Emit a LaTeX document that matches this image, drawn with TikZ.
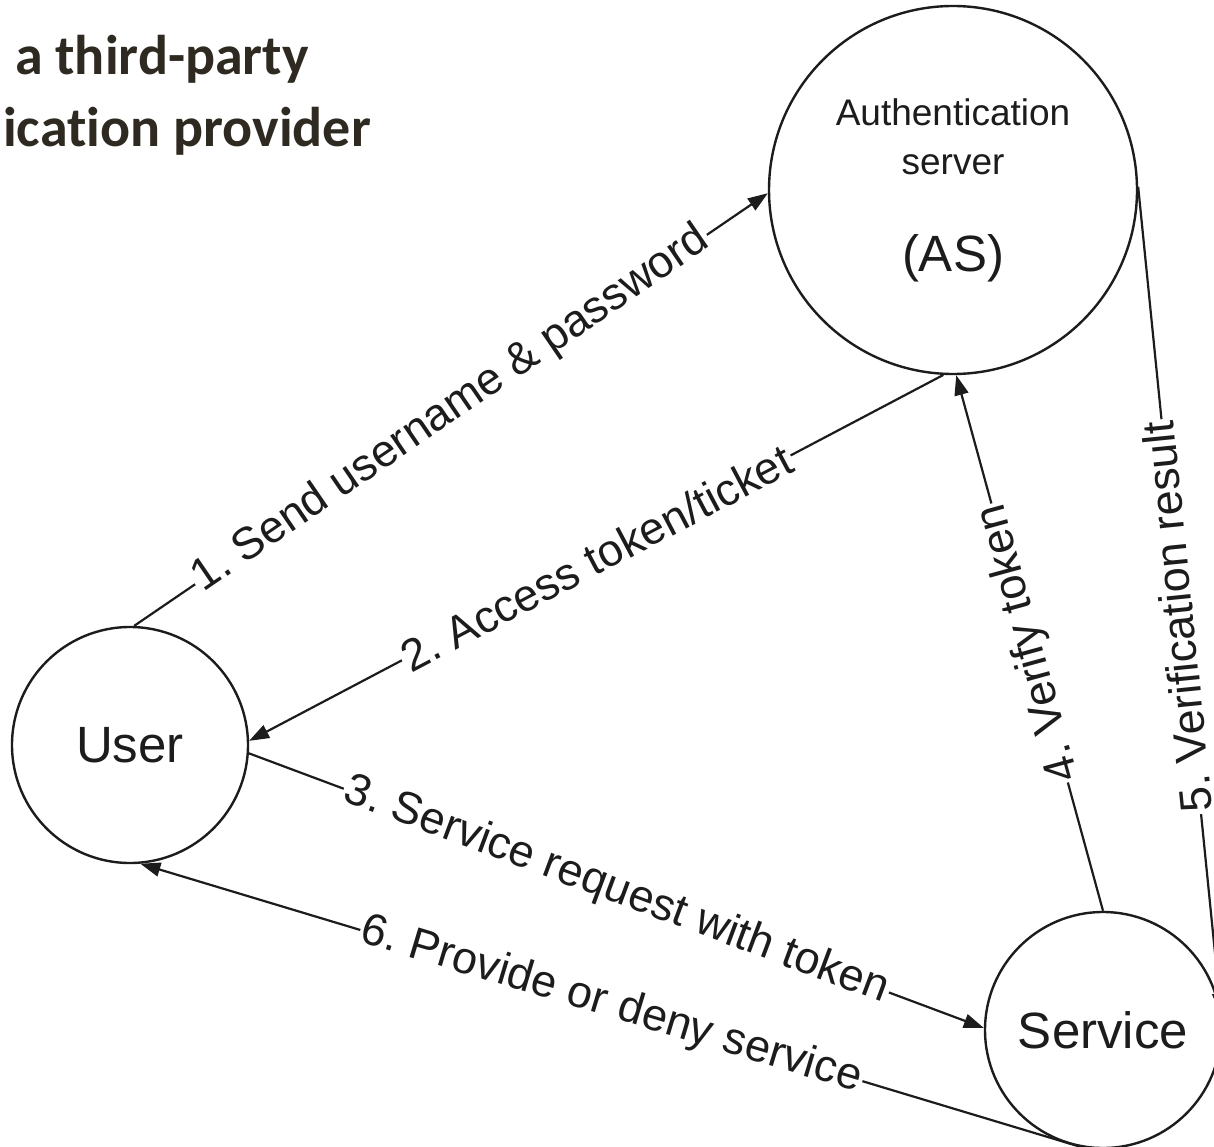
\documentclass[tikz,border=0pt]{standalone}
\usepackage{fontspec}
\setmainfont{Liberation Sans}
\newfontfamily\headfont[Ligatures=NoCommon]{Carlito}
\usepackage{tikz}
\usetikzlibrary{arrows.meta}
\definecolor{headcol}{RGB}{47,42,33}
\definecolor{inkcol}{RGB}{28,28,28}
\tikzset{
    party/.style={circle, draw=inkcol, line width=2.4pt, inner sep=0pt, text=inkcol},
    flow/.style={draw=inkcol, line width=2.2pt, -{Triangle[length=20pt,width=14pt]}},
    msg/.style={fill=white, inner sep=2pt, text=inkcol, sloped, font=\fontsize{45}{54}\selectfont}
}
\frenchspacing

\begin{document}
\begin{tikzpicture}[x=1pt, y=-1pt]
    \useasboundingbox (0,0) rectangle (1214,1147);
    \clip (0,0) rectangle (1214,1147);
    \fill[white] (0,0) rectangle (1214,1147);
    % heading
    \node[anchor=base west, inner sep=0pt, text=headcol, font=\headfont\bfseries\fontsize{56}{60}\selectfont] (titletop) at (15,75) {a third-party};
    \node[anchor=base east, inner sep=0pt, text=headcol, font=\headfont\bfseries\fontsize{56}{60}\selectfont] (titlebottom) at (371,147) {ication provider};
    % the three parties
    \node[party, minimum size=236pt, font=\fontsize{51}{60}\selectfont] (user) at (130,745) {User};
    \node[party, minimum size=368pt] (as) at (953,190) {};
    \node[text=inkcol, align=center, font=\fontsize{37}{49}\selectfont] (asname) at (953,137) {Authentication\\server};
    \node[text=inkcol, font=\fontsize{51}{60}\selectfont] (asabbr) at (953,258) {(AS)};
    \node[party, minimum size=236pt, font=\fontsize{51}{60}\selectfont] (service) at (1103,1030) {Service};
    % messages
    \draw[flow] (user.88) -- node[msg] {1. Send username \& password} (as.181);
    \draw[flow] (as.-93) -- node[msg] {2. Access token/ticket} (user.2);
    \draw[flow] (user.-4) -- node[msg] {3. Service request with token} (service.179);
    \draw[flow] (service.90) -- node[msg, allow upside down] {4. Verify token} (as.-89);
    \draw[flow, {Triangle[length=20pt,width=14pt]}-] (service.8) -- node[msg, allow upside down, pos=0.48, yshift=4pt] {5. Verification result} (as.1);
    \draw[flow] (service.-100) -- node[msg] {6. Provide or deny service} (user.-85);
\end{tikzpicture}
\end{document}
